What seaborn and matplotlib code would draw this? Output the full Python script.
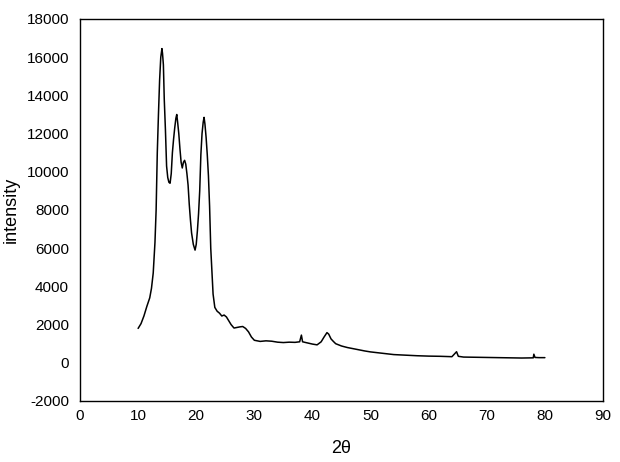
import numpy as np
import pandas as pd
import matplotlib
matplotlib.use("Agg")
import matplotlib.pyplot as plt
import seaborn as sns
from matplotlib.ticker import MultipleLocator

theta = [10.0, 10.5, 11.0, 11.5, 12.0, 12.3, 12.6, 12.9, 13.1, 13.3, 13.5, 13.7, 13.9, 14.1, 14.2,
         14.35, 14.5, 14.7, 14.9, 15.1, 15.3, 15.5, 15.7, 15.9, 16.1, 16.3, 16.5, 16.65, 16.8, 17.0,
         17.2, 17.4, 17.6, 17.8, 18.0, 18.2, 18.4, 18.6, 18.8, 19.0, 19.2, 19.5, 19.8, 20.0, 20.2,
         20.4, 20.6, 20.8, 21.0, 21.2, 21.35, 21.5, 21.7, 21.9, 22.1, 22.3, 22.5, 22.7, 22.9, 23.2,
         23.6, 24.0, 24.4, 24.8, 25.2, 25.6, 26.0, 26.5, 27.0, 27.5, 28.0, 28.5, 29.0, 29.5, 30.0,
         31.0, 32.0, 33.0, 34.0, 35.0, 36.0, 37.0, 37.8, 38.1, 38.3, 39.0, 40.0, 40.8, 41.5, 42.0,
         42.5, 42.8, 43.2, 43.6, 44.0, 45.0, 46.0, 47.0, 48.0, 49.0, 50.0, 52.0, 54.0, 56.0, 58.0,
         60.0, 62.0, 64.0, 64.8, 65.1, 66.0, 68.0, 70.0, 72.0, 74.0, 76.0, 78.0, 78.1, 78.3, 79.0, 80.0]
intensidad = [1800, 2050, 2450, 2950, 3400, 3900, 4700, 6300, 8000, 11000, 13000, 14800, 16000, 16450, 16200,
              15600, 13800, 12200, 10300, 9700, 9450, 9400, 9900, 11000, 11700, 12300, 12800, 13000, 12600, 12000,
              11200, 10500, 10200, 10500, 10600, 10400, 9900, 9300, 8300, 7500, 6800, 6200, 5900, 6200, 6900,
              7800, 9000, 10900, 12000, 12600, 12850, 12500, 11800, 10900, 9800, 8200, 6000, 4800, 3600, 2900,
              2700, 2600, 2450, 2500, 2400, 2200, 2000, 1820, 1850, 1880, 1900, 1800, 1620, 1350, 1180,
              1120, 1150, 1130, 1080, 1060, 1080, 1070, 1100, 1450, 1100, 1050, 980, 940, 1100, 1350,
              1580, 1500, 1250, 1120, 1000, 880, 800, 740, 680, 620, 570, 500, 430, 400, 370,
              350, 340, 320, 580, 340, 300, 290, 280, 270, 260, 250, 260, 450, 280, 270, 270]

df = pd.DataFrame({"2theta": theta, "intensity": intensidad})

sns.set_style("white")
plt.rcParams['font.family'] = ['Liberation Sans', 'DejaVu Sans']
plt.rcParams['axes.unicode_minus'] = False
plt.rcParams['text.color'] = 'black'
plt.rcParams['axes.labelcolor'] = 'black'
plt.rcParams['xtick.color'] = 'black'
plt.rcParams['ytick.color'] = 'black'

fig = plt.figure(figsize=(6.2, 4.62), dpi=100)
ax = fig.add_axes([80 / 620, 1 - 401 / 462, 523 / 620, 382 / 462])

sns.lineplot(data=df, x="2theta", y="intensity", color="black", linewidth=1.1, sort=False, ax=ax)

ax.set_xlim(0, 90)
ax.set_ylim(-2000, 18000)
ax.xaxis.set_major_locator(MultipleLocator(10))
ax.xaxis.set_minor_locator(MultipleLocator(5))
ax.yaxis.set_major_locator(MultipleLocator(2000))
ax.yaxis.set_minor_locator(MultipleLocator(1000))
ax.tick_params(which="both", direction="in", top=False, right=False, labelsize=11)
ax.tick_params(which="major", length=5, width=1)
ax.tick_params(which="minor", length=3, width=1)
ax.tick_params(axis="y", pad=8)
ax.tick_params(axis="x", pad=6)
for s in ax.spines.values():
    s.set_color("black")
    s.set_linewidth(1)

ax.set_xlabel("2θ", fontsize=13, labelpad=12)
ax.set_ylabel("intensity", fontsize=13)
ax.yaxis.set_label_coords(-0.115, 0.5)

fig.savefig("out.png", dpi=100)
